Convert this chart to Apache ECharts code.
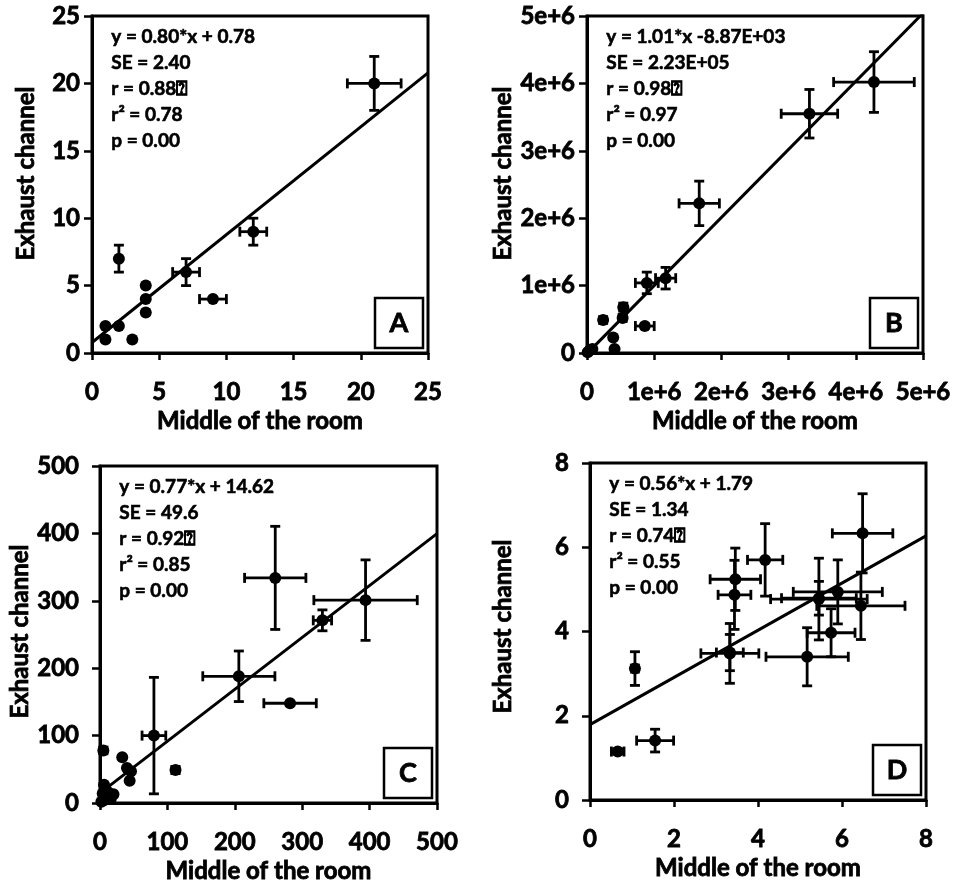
<!DOCTYPE html>
<html>
<head>
<meta charset="utf-8">
<script src="https://cdn.jsdelivr.net/npm/echarts@6/dist/echarts.min.js"></script>
<style>
  html, body { margin: 0; padding: 0; background: #fff; }
  #chart { width: 954px; height: 886px; }
</style>
</head>
<body>
<div id="chart"></div>
<script>
// ---- Panel A ----
const aX    = [1, 1, 2, 2, 3, 4, 4, 4, 7, 9, 12, 21];
const aY    = [2, 1, 2, 7, 1, 5, 4, 3, 6, 4, 9, 20];
const aXErr = [0, 0, 0, 0, 0, 0, 0, 0, 1, 1, 1, 2];
const aYErr = [0, 0, 0, 1, 0, 0, 0, 0, 1, 0, 1, 2];

// ---- Panel B ----
const bX    = [0.01e6, 0.04e6, 0.08e6, 0.24e6, 0.39e6, 0.41e6, 0.53e6, 0.54e6, 0.86e6, 0.89e6, 1.17e6, 1.67e6, 3.31e6, 4.27e6];
const bY    = [0.01e6, 0.04e6, 0.06e6, 0.49e6, 0.23e6, 0.06e6, 0.52e6, 0.68e6, 0.40e6, 1.04e6, 1.11e6, 2.22e6, 3.55e6, 4.02e6];
const bXErr = [0, 0, 0, 0.02e6, 0, 0, 0.04e6, 0.03e6, 0.14e6, 0.17e6, 0.15e6, 0.30e6, 0.42e6, 0.60e6];
const bYErr = [0, 0, 0, 0.05e6, 0, 0, 0.05e6, 0.06e6, 0.03e6, 0.16e6, 0.16e6, 0.33e6, 0.36e6, 0.45e6];

// ---- Panel C ----
const cX    = [2, 4, 6, 8, 10, 12, 16, 20, 6, 5, 33, 40, 46, 44, 80, 112, 206, 260, 282, 330, 394];
const cY    = [2, 14, 27, 22, 10, 16, 6, 13, 4, 78, 68, 52, 47, 33, 100, 49, 188, 334, 148, 271, 301];
const cXErr = [0, 0, 0, 0, 0, 0, 0, 0, 0, 0, 0, 0, 0, 0, 17.6, 5, 53.5, 45.5, 38.9, 13.6, 76.7];
const cYErr = [0, 0, 0, 0, 0, 0, 0, 0, 0, 5, 0, 0, 0, 0, 86.4, 5, 37.5, 76.5, 0, 15.5, 59.7];

// ---- Panel D ----
const dX    = [0.66, 1.07, 1.55, 3.33, 3.33, 3.44, 3.46, 4.17, 5.17, 5.45, 5.45, 5.74, 5.90, 6.45, 6.49];
const dY    = [1.15, 3.12, 1.41, 3.48, 3.50, 4.87, 5.24, 5.70, 3.40, 4.77, 4.79, 3.97, 4.94, 4.61, 6.33];
const dXErr = [0.15, 0.08, 0.44, 0.69, 0.32, 0.39, 0.60, 0.42, 0.98, 1.15, 0.89, 0.57, 1.06, 1.05, 0.72];
const dYErr = [0.06, 0.40, 0.27, 0.71, 0.43, 0.82, 0.74, 0.86, 0.69, 0.97, 0.40, 0.57, 0.76, 0.80, 0.94];

// Regression fits (slope, intercept) per panel
const fitSlope     = [0.80, 1.01, 0.77, 0.56];
const fitIntercept = [0.78, -8870, 14.62, 1.79];

// Statistics annotations
const statsA = ['y = 0.80*x + 0.78', 'SE = 2.40', 'r = 0.88\u2370', 'r\u00B2 = 0.78', 'p = 0.00'];
const statsB = ['y = 1.01*x -8.87E+03', 'SE = 2.23E+05', 'r = 0.98\u2370', 'r\u00B2 = 0.97', 'p = 0.00'];
const statsC = ['y = 0.77*x + 14.62', 'SE = 49.6', 'r = 0.92\u2370', 'r\u00B2 = 0.85', 'p = 0.00'];
const statsD = ['y = 0.56*x + 1.79', 'SE = 1.34', 'r = 0.74\u2370', 'r\u00B2 = 0.55', 'p = 0.00'];

const panelLetters = ['A', 'B', 'C', 'D'];
const axisMax      = [25, 5e6, 500, 8];
const axisStep     = [5, 1e6, 100, 2];
const xAxisTitle   = 'Middle of the room';
const yAxisTitle   = 'Exhaust channel';

// ---- Layout ----
const grids = [
  { left: 92,  top: 16,  width: 336, height: 337 },
  { left: 587, top: 16,  width: 336, height: 337 },
  { left: 100, top: 466, width: 337, height: 337 },
  { left: 590, top: 463, width: 336, height: 337 }
];
const yLabelMargin = [12, 12, 21, 21];
const yNameGap     = [54, 72, 62, 75];
const yNamePad     = [[0, 0, 0, 22], [0, 0, 0, 22], [0, 0, 0, 6], [0, 0, 0, 10]];

const FONT = 'Lato, "Open Sans", sans-serif';
// a hairline outline in the text colour gives the heavier stroke of the lettering
const HEAVY = { textBorderColor: '#000', textBorderWidth: 0.8 };
const panelData = [
  [aX, aY, aXErr, aYErr],
  [bX, bY, bXErr, bYErr],
  [cX, cY, cXErr, cYErr],
  [dX, dY, dXErr, dYErr]
];
const panelStats = [statsA, statsB, statsC, statsD];

function tickFormatter(i) {
  if (i === 1) return v => (v === 0 ? '0' : (v / 1e6) + 'e+6');
  return v => String(v);
}

// Horizontal and vertical error bars with end caps
function renderErrorBars(params, api) {
  const x = api.value(0), y = api.value(1), xe = api.value(2), ye = api.value(3);
  const cap = 5;
  const style = { stroke: '#000', lineWidth: 2.8 };
  const children = [];
  if (xe > 0) {
    const l = api.coord([x - xe, y]);
    const r = api.coord([x + xe, y]);
    children.push({ type: 'line', shape: { x1: l[0], y1: l[1], x2: r[0], y2: r[1] }, style });
    children.push({ type: 'line', shape: { x1: l[0], y1: l[1] - cap, x2: l[0], y2: l[1] + cap }, style });
    children.push({ type: 'line', shape: { x1: r[0], y1: r[1] - cap, x2: r[0], y2: r[1] + cap }, style });
  }
  if (ye > 0) {
    const t = api.coord([x, y + ye]);
    const b = api.coord([x, y - ye]);
    children.push({ type: 'line', shape: { x1: t[0], y1: t[1], x2: b[0], y2: b[1] }, style });
    children.push({ type: 'line', shape: { x1: t[0] - cap, y1: t[1], x2: t[0] + cap, y2: t[1] }, style });
    children.push({ type: 'line', shape: { x1: b[0] - cap, y1: b[1], x2: b[0] + cap, y2: b[1] }, style });
  }
  return { type: 'group', children };
}

const xAxes = [], yAxes = [], series = [], graphics = [];

grids.forEach((g, i) => {
  xAxes.push({
    gridIndex: i, type: 'value', min: 0, max: axisMax[i], interval: axisStep[i],
    name: xAxisTitle, nameLocation: 'middle', nameGap: 56,
    nameTextStyle: Object.assign({ fontFamily: FONT, fontWeight: 'bold', fontSize: 24, color: '#000' }, HEAVY),
    axisLine: { show: true, onZero: false, lineStyle: { color: '#000', width: 3 } },
    axisTick: { show: true, inside: false, length: 7, lineStyle: { color: '#000', width: 2.5 } },
    axisLabel: Object.assign({ margin: 27, fontFamily: FONT, fontWeight: 'bold', fontSize: 24, color: '#000', formatter: tickFormatter(i) }, HEAVY),
    splitLine: { show: false }
  });
  yAxes.push({
    gridIndex: i, type: 'value', min: 0, max: axisMax[i], interval: axisStep[i],
    name: yAxisTitle, nameLocation: 'middle', nameGap: yNameGap[i],
    nameTextStyle: Object.assign({ fontFamily: FONT, fontWeight: 'bold', fontSize: 24, color: '#000', padding: yNamePad[i] }, HEAVY),
    axisLine: { show: true, onZero: false, lineStyle: { color: '#000', width: 3 } },
    axisTick: { show: true, inside: false, length: 8, lineStyle: { color: '#000', width: 2.5 } },
    axisLabel: Object.assign({ margin: yLabelMargin[i], fontFamily: FONT, fontWeight: 'bold', fontSize: 24, color: '#000', formatter: tickFormatter(i) }, HEAVY),
    splitLine: { show: false }
  });

  const [xs, ys, xes, yes] = panelData[i];
  const points = xs.map((x, k) => [x, ys[k]]);
  const bars = xs.map((x, k) => [x, ys[k], xes[k], yes[k]]);
  const xEnd = axisMax[i];

  series.push({
    type: 'line', xAxisIndex: i, yAxisIndex: i, symbol: 'none', silent: true, clip: true, z: 2,
    lineStyle: { color: '#000', width: 3 },
    data: [[0, fitIntercept[i]], [xEnd, fitSlope[i] * xEnd + fitIntercept[i]]]
  });
  series.push({
    type: 'custom', xAxisIndex: i, yAxisIndex: i, renderItem: renderErrorBars,
    encode: { x: 0, y: 1 }, data: bars, z: 3, silent: true, clip: false
  });
  series.push({
    type: 'scatter', xAxisIndex: i, yAxisIndex: i, symbol: 'circle', symbolSize: 12,
    itemStyle: { color: '#000', opacity: 1 }, data: points, z: 4, silent: true
  });

  // statistics block
  graphics.push({
    type: 'text', left: g.left + 19, top: g.top + 8, z: 10,
    style: Object.assign({
      text: panelStats[i].join('\n'),
      font: 'bold 19px ' + FONT, fill: '#000', lineHeight: 26,
      stroke: '#000', lineWidth: 0.6
    })
  });
  // panel letter box
  const bw = 48, bh = 50;
  const bx = g.left + g.width - 5 - bw, by = g.top + g.height - 5 - bh;
  graphics.push({
    type: 'rect', z: 10,
    shape: { x: bx, y: by, width: bw, height: bh },
    style: { fill: '#fff', stroke: '#000', lineWidth: 2.5 }
  });
  graphics.push({
    type: 'text', z: 11, x: bx + bw / 2, y: by + bh / 2,
    style: { text: panelLetters[i], font: 'bold 27px ' + FONT, fill: '#000', align: 'center', verticalAlign: 'middle', stroke: '#000', lineWidth: 0.8 }
  });
});

const chart = echarts.init(document.getElementById('chart'), null, { renderer: 'canvas' });
chart.setOption({
  animation: false,
  backgroundColor: '#fff',
  grid: grids.map(g => Object.assign({ show: true, borderColor: '#000', borderWidth: 3, backgroundColor: 'transparent', containLabel: false }, g)),
  xAxis: xAxes,
  yAxis: yAxes,
  series: series,
  graphic: graphics
});
</script>
</body>
</html>
